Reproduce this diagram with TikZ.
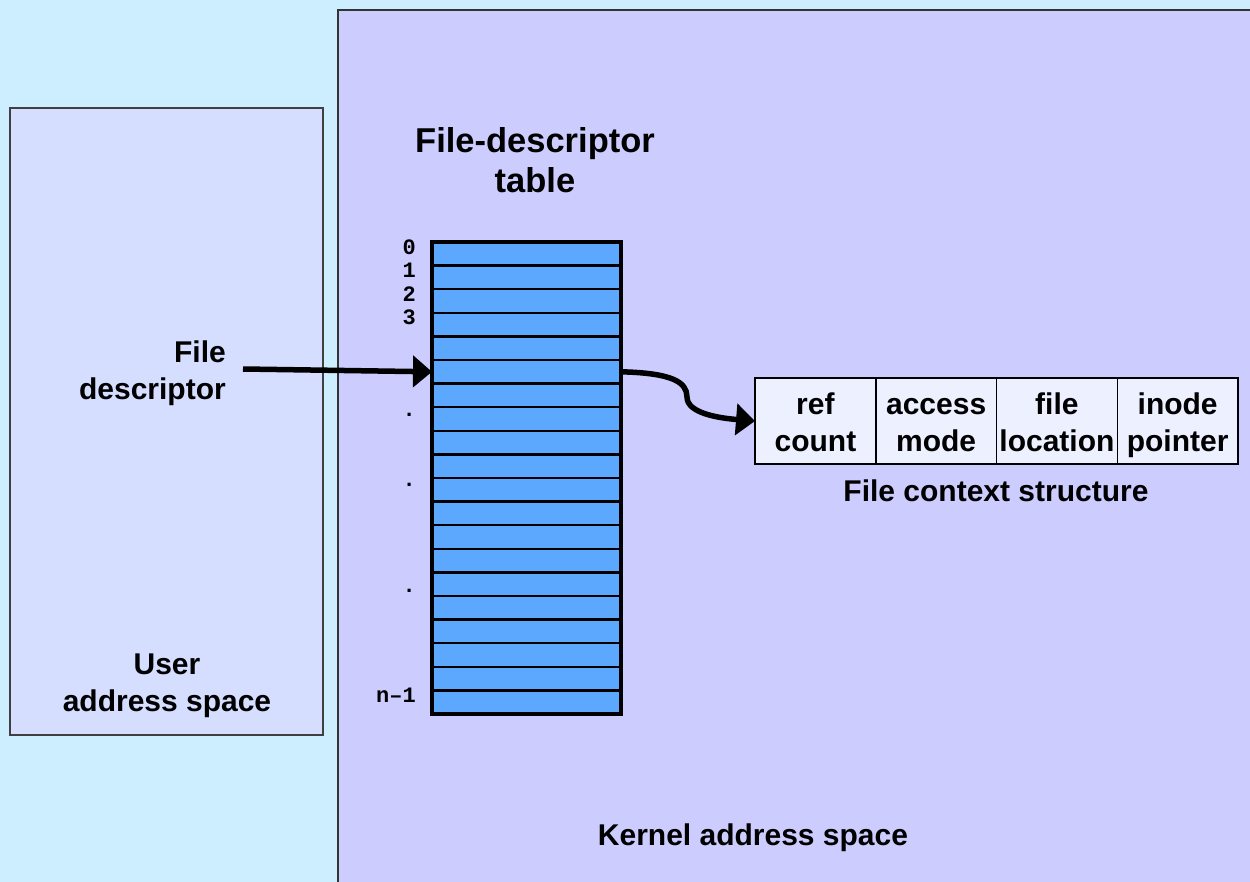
\documentclass[tikz,border=0pt]{standalone}
\usepackage{fontspec}
\setmainfont{Liberation Sans}
\newfontfamily\monofnt{Liberation Mono}
\usetikzlibrary{
  arrows.meta,
  calc,
  positioning,
}
\definecolor{bgblue}{HTML}{CCEEFF}
\definecolor{kernfill}{HTML}{CCCCFF}
\definecolor{userfill}{HTML}{D5DEFF}
\definecolor{slotfill}{HTML}{5CA8FF}
\definecolor{ctxfill}{HTML}{ECF0FF}
\newcommand\fstrut{\rule[-7pt]{0pt}{37pt}}
\newcommand\fldtext[2]{#1\fstrut\\#2\fstrut}
\tikzset{
  x = 1pt,
  y = -1pt,
  txt/.style={
    font=\fontsize{30}{37}\selectfont\bfseries,
    align=center, inner sep=0pt,
  },
  slot/.style={
    draw, line width=2.5pt, fill=slotfill,
    minimum width=189pt, minimum height=23.6pt,
    inner sep=0pt, outer sep=0pt,
  },
  fld/.style={
    draw, line width=1.5pt, fill=ctxfill, txt,
    minimum width=120.75pt, minimum height=86pt, outer sep=0pt,
  },
  idx/.style={font=\monofnt\bfseries\fontsize{22}{22}\selectfont,
    inner sep=0pt, anchor=east},
  >={Triangle[length=19pt,width=31pt]},
}

\begin{document}
\begin{tikzpicture}[
  thick arrow/.style={->, line width=5.5pt},]
  \useasboundingbox (0,0) rectangle (1250,882);
  %%
  \fill[bgblue] (0,0) rectangle (1250,882);
  \fill[kernfill] (338,10) rectangle (1250,882);
  \draw[line width=2pt, black!80] (338,882) |- (1250,10);
  \draw[line width=2pt, black!75, fill=userfill] (10,108) rectangle (323,735);
  %%
  \node[txt] (user) at (167,686) {User\\address space};
  \node[txt] (kern) at (753,838) {Kernel address space};
  \node[txt, font=\fontsize{34.5}{40}\selectfont\bfseries]
  (fdtitle) at (535,160) {File-descriptor\\table};
  %%
  \node[slot] (r0) at (526.5,253.8) {};
  \foreach \i [count=\j from 1] in {0,...,18}
    \node[slot, below=0pt of r\i] (r\j) {};
  \draw[line width=4pt] (r0.north west) rectangle (r19.south east);
  %%
  \foreach \i in {0,...,3}
    \node[idx, yshift=7pt] (n\i) at ([xshift=-16pt]r\i.west) {\i};
  \node[idx, yshift=7pt] (nlast) at ([xshift=-16pt]r19.west) {n–1};
  \node[idx, yshift=4pt] (d1) at ([xshift=-16pt]r7.west) {.};
  \node[idx, yshift=5pt] (d2) at ([xshift=-16pt]r10.west) {.};
  \node[idx, yshift=-7pt] (d3) at ([xshift=-16pt]r14.west) {.};
  %%
  \node[txt, anchor=east, align=right] (fd) at (226,373.5) {File\\descriptor};
  \coordinate (fdtail) at (243,369);
  \draw[thick arrow] (fdtail) -- (r5.west);
  %%
  \node[fld] (ref) at (815.4,421) {\fldtext{ref}{count}};
  \node[fld, right=0pt of ref] (acc) {\fldtext{access}{mode}};
  \node[fld, right=0pt of acc] (loc) {\fldtext{file}{location}};
  \node[fld, right=0pt of loc] (ino) {\fldtext{inode}{pointer}};
  \node[txt] (ctx) at (996,491) {File context structure};
  %%
  \draw[thick arrow] (r5.east)
  .. controls (672,373) and (687,382) .. (687,397)
  .. controls (687,413) and (718,418) .. (ref.west);
\end{tikzpicture}
\end{document}
